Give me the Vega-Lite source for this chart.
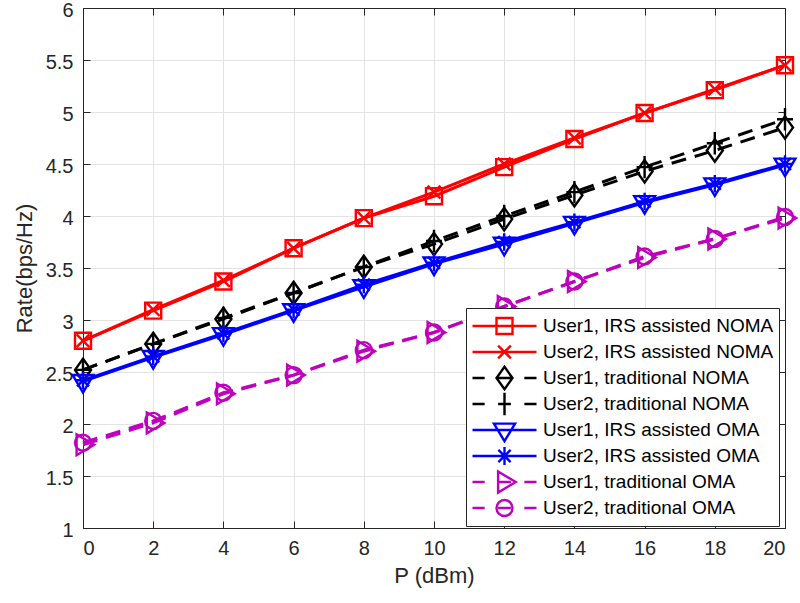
{
  "$schema": "https://vega.github.io/schema/vega-lite/v6.json",
  "width": 702,
  "height": 520,
  "autosize": {"type": "none"},
  "padding": {"left": 83, "top": 8, "right": 15, "bottom": 75},
  "background": "white",
  "config": {
    "font": "Liberation Sans",
    "view": {"stroke": null},
    "axis": {
      "domainColor": "#262626",
      "domainWidth": 1,
      "tickColor": "#262626",
      "tickWidth": 1,
      "tickSize": -7,
      "labelColor": "#262626",
      "labelFont": "Liberation Sans",
      "labelFontSize": 20,
      "titleFont": "Liberation Sans",
      "titleFontSize": 22,
      "titleFontWeight": "normal",
      "titleColor": "#262626",
      "gridColor": "#e3e3e3",
      "gridWidth": 1
    }
  },
  "data": {
    "values": [
      {"P": 0, "series": "User1, IRS assisted NOMA", "rate": 2.80},
      {"P": 2, "series": "User1, IRS assisted NOMA", "rate": 3.09},
      {"P": 4, "series": "User1, IRS assisted NOMA", "rate": 3.37},
      {"P": 6, "series": "User1, IRS assisted NOMA", "rate": 3.69},
      {"P": 8, "series": "User1, IRS assisted NOMA", "rate": 3.98},
      {"P": 10, "series": "User1, IRS assisted NOMA", "rate": 4.19},
      {"P": 12, "series": "User1, IRS assisted NOMA", "rate": 4.47},
      {"P": 14, "series": "User1, IRS assisted NOMA", "rate": 4.74},
      {"P": 16, "series": "User1, IRS assisted NOMA", "rate": 4.99},
      {"P": 18, "series": "User1, IRS assisted NOMA", "rate": 5.21},
      {"P": 20, "series": "User1, IRS assisted NOMA", "rate": 5.45},
      {"P": 0, "series": "User2, IRS assisted NOMA", "rate": 2.80},
      {"P": 2, "series": "User2, IRS assisted NOMA", "rate": 3.10},
      {"P": 4, "series": "User2, IRS assisted NOMA", "rate": 3.38},
      {"P": 6, "series": "User2, IRS assisted NOMA", "rate": 3.69},
      {"P": 8, "series": "User2, IRS assisted NOMA", "rate": 3.98},
      {"P": 10, "series": "User2, IRS assisted NOMA", "rate": 4.23},
      {"P": 12, "series": "User2, IRS assisted NOMA", "rate": 4.50},
      {"P": 14, "series": "User2, IRS assisted NOMA", "rate": 4.75},
      {"P": 16, "series": "User2, IRS assisted NOMA", "rate": 4.99},
      {"P": 18, "series": "User2, IRS assisted NOMA", "rate": 5.22},
      {"P": 20, "series": "User2, IRS assisted NOMA", "rate": 5.45},
      {"P": 0, "series": "User1, traditional NOMA", "rate": 2.52},
      {"P": 2, "series": "User1, traditional NOMA", "rate": 2.77},
      {"P": 4, "series": "User1, traditional NOMA", "rate": 3.01},
      {"P": 6, "series": "User1, traditional NOMA", "rate": 3.26},
      {"P": 8, "series": "User1, traditional NOMA", "rate": 3.51},
      {"P": 10, "series": "User1, traditional NOMA", "rate": 3.73},
      {"P": 12, "series": "User1, traditional NOMA", "rate": 3.97},
      {"P": 14, "series": "User1, traditional NOMA", "rate": 4.20},
      {"P": 16, "series": "User1, traditional NOMA", "rate": 4.43},
      {"P": 18, "series": "User1, traditional NOMA", "rate": 4.63},
      {"P": 20, "series": "User1, traditional NOMA", "rate": 4.85},
      {"P": 0, "series": "User2, traditional NOMA", "rate": 2.52},
      {"P": 2, "series": "User2, traditional NOMA", "rate": 2.77},
      {"P": 4, "series": "User2, traditional NOMA", "rate": 3.02},
      {"P": 6, "series": "User2, traditional NOMA", "rate": 3.26},
      {"P": 8, "series": "User2, traditional NOMA", "rate": 3.51},
      {"P": 10, "series": "User2, traditional NOMA", "rate": 3.76},
      {"P": 12, "series": "User2, traditional NOMA", "rate": 4.00},
      {"P": 14, "series": "User2, traditional NOMA", "rate": 4.23},
      {"P": 16, "series": "User2, traditional NOMA", "rate": 4.47},
      {"P": 18, "series": "User2, traditional NOMA", "rate": 4.70},
      {"P": 20, "series": "User2, traditional NOMA", "rate": 4.93},
      {"P": 0, "series": "User1, IRS assisted OMA", "rate": 2.41},
      {"P": 2, "series": "User1, IRS assisted OMA", "rate": 2.64},
      {"P": 4, "series": "User1, IRS assisted OMA", "rate": 2.86},
      {"P": 6, "series": "User1, IRS assisted OMA", "rate": 3.09},
      {"P": 8, "series": "User1, IRS assisted OMA", "rate": 3.32},
      {"P": 10, "series": "User1, IRS assisted OMA", "rate": 3.54},
      {"P": 12, "series": "User1, IRS assisted OMA", "rate": 3.73},
      {"P": 14, "series": "User1, IRS assisted OMA", "rate": 3.93},
      {"P": 16, "series": "User1, IRS assisted OMA", "rate": 4.13},
      {"P": 18, "series": "User1, IRS assisted OMA", "rate": 4.30},
      {"P": 20, "series": "User1, IRS assisted OMA", "rate": 4.49},
      {"P": 0, "series": "User2, IRS assisted OMA", "rate": 2.42},
      {"P": 2, "series": "User2, IRS assisted OMA", "rate": 2.65},
      {"P": 4, "series": "User2, IRS assisted OMA", "rate": 2.87},
      {"P": 6, "series": "User2, IRS assisted OMA", "rate": 3.10},
      {"P": 8, "series": "User2, IRS assisted OMA", "rate": 3.34},
      {"P": 10, "series": "User2, IRS assisted OMA", "rate": 3.55},
      {"P": 12, "series": "User2, IRS assisted OMA", "rate": 3.75},
      {"P": 14, "series": "User2, IRS assisted OMA", "rate": 3.94},
      {"P": 16, "series": "User2, IRS assisted OMA", "rate": 4.14},
      {"P": 18, "series": "User2, IRS assisted OMA", "rate": 4.31},
      {"P": 20, "series": "User2, IRS assisted OMA", "rate": 4.50},
      {"P": 0, "series": "User1, traditional OMA", "rate": 1.80},
      {"P": 2, "series": "User1, traditional OMA", "rate": 2.01},
      {"P": 4, "series": "User1, traditional OMA", "rate": 2.29},
      {"P": 6, "series": "User1, traditional OMA", "rate": 2.47},
      {"P": 8, "series": "User1, traditional OMA", "rate": 2.70},
      {"P": 10, "series": "User1, traditional OMA", "rate": 2.88},
      {"P": 12, "series": "User1, traditional OMA", "rate": 3.13},
      {"P": 14, "series": "User1, traditional OMA", "rate": 3.37},
      {"P": 16, "series": "User1, traditional OMA", "rate": 3.60},
      {"P": 18, "series": "User1, traditional OMA", "rate": 3.78},
      {"P": 20, "series": "User1, traditional OMA", "rate": 3.98},
      {"P": 0, "series": "User2, traditional OMA", "rate": 1.82},
      {"P": 2, "series": "User2, traditional OMA", "rate": 2.03},
      {"P": 4, "series": "User2, traditional OMA", "rate": 2.30},
      {"P": 6, "series": "User2, traditional OMA", "rate": 2.47},
      {"P": 8, "series": "User2, traditional OMA", "rate": 2.71},
      {"P": 10, "series": "User2, traditional OMA", "rate": 2.88},
      {"P": 12, "series": "User2, traditional OMA", "rate": 3.13},
      {"P": 14, "series": "User2, traditional OMA", "rate": 3.37},
      {"P": 16, "series": "User2, traditional OMA", "rate": 3.61},
      {"P": 18, "series": "User2, traditional OMA", "rate": 3.78},
      {"P": 20, "series": "User2, traditional OMA", "rate": 3.99}
    ]
  },
  "layer": [
    {
      "encoding": {
        "x": {
          "field": "P",
          "type": "quantitative",
          "scale": {"domain": [0, 20], "nice": false, "zero": false},
          "axis": {
            "orient": "bottom",
            "values": [0, 2, 4, 6, 8, 10, 12, 14, 16, 18, 20],
            "grid": true,
            "labelPadding": 17,
            "title": "P (dBm)",
            "titlePadding": 7
          }
        },
        "y": {
          "field": "rate",
          "type": "quantitative",
          "scale": {"domain": [1, 6], "nice": false, "zero": false},
          "axis": {
            "orient": "left",
            "values": [1, 1.5, 2, 2.5, 3, 3.5, 4, 4.5, 5, 5.5, 6],
            "format": "~g",
            "grid": true,
            "labelPadding": 17,
            "labelOffset": 2,
            "title": "Rate(bps/Hz)",
            "titlePadding": 9
          }
        },
        "color": {
          "field": "series",
          "type": "nominal",
          "scale": {
            "domain": [
              "User1, IRS assisted NOMA",
              "User2, IRS assisted NOMA",
              "User1, traditional NOMA",
              "User2, traditional NOMA",
              "User1, IRS assisted OMA",
              "User2, IRS assisted OMA",
              "User1, traditional OMA",
              "User2, traditional OMA"
            ],
            "range": ["#ff0000", "#ff0000", "#000000", "#000000", "#0000ff", "#0000ff", "#bf00bf", "#bf00bf"]
          },
          "legend": {
            "title": null,
            "orient": "none",
            "legendX": 383,
            "legendY": 300,
            "direction": "vertical",
            "symbolSize": 4096,
            "symbolStrokeWidth": 2.4,
            "labelFont": "Liberation Sans",
            "labelFontSize": 19,
            "labelColor": "#000000",
            "labelOffset": 5,
            "labelLimit": 400,
            "padding": 5,
            "clipHeight": 26,
            "rowPadding": 0,
            "strokeColor": "#262626",
            "fillColor": "white",
            "encode": {
              "symbols": {
                "update": {
                  "shape": {
                    "signal": "['M-1,0H1M-0.25,-0.25H0.25V0.25H-0.25Z', 'M-1,0H1M-0.2,-0.2L0.2,0.2M-0.2,0.2L0.2,-0.2', 'M-1,0H-0.62M-0.2,0H0.2M0.62,0H1M0,-0.35L0.25,0L0,0.35L-0.25,0Z', 'M-1,0H-0.62M-0.2,0H0.2M0.62,0H1M0,-0.35V0.35', 'M-1,0H1M-0.33,-0.2H0.33L0,0.35Z', 'M-1,0H1M0,-0.28V0.28M-0.19,-0.19L0.19,0.19M-0.19,0.19L0.19,-0.19', 'M-1,0H-0.62M-0.2,0H0.2M0.62,0H1M-0.2,-0.33L0.35,0L-0.2,0.33Z', 'M-1,0H-0.62M-0.2,0H0.2M0.62,0H1M0.25,0A0.25,0.25 0 1,1 -0.25,0A0.25,0.25 0 1,1 0.25,0Z'][indexof(['User1, IRS assisted NOMA', 'User2, IRS assisted NOMA', 'User1, traditional NOMA', 'User2, traditional NOMA', 'User1, IRS assisted OMA', 'User2, IRS assisted OMA', 'User1, traditional OMA', 'User2, traditional OMA'], datum.value)]"
                  },
                  "fill": {"value": "transparent"},
                  "strokeDash": {"value": []},
                  "opacity": {"value": 1}
                }
              }
            }
          }
        }
      },
      "layer": [
        {
          "transform": [{"filter": "indexof(datum.series, 'traditional') < 0"}],
          "mark": {"type": "line", "strokeWidth": 3}
        },
        {
          "transform": [{"filter": "indexof(datum.series, 'traditional') >= 0"}],
          "mark": {"type": "line", "strokeWidth": 3, "strokeDash": [15, 9]}
        },
        {
          "mark": {"type": "point", "filled": false, "strokeWidth": 2.4, "size": 256, "opacity": 1},
          "encoding": {
            "shape": {
              "field": "series",
              "type": "nominal",
              "scale": {
                "domain": [
                  "User2, traditional OMA",
                  "User1, traditional OMA",
                  "User2, IRS assisted OMA",
                  "User1, IRS assisted OMA",
                  "User2, traditional NOMA",
                  "User1, traditional NOMA",
                  "User2, IRS assisted NOMA",
                  "User1, IRS assisted NOMA"
                ],
                "range": [
                  "M1,0A1,1 0 1,1 -1,0A1,1 0 1,1 1,0Z",
                  "M-0.8,-1.3L1.4,0L-0.8,1.3Z",
                  "M-1,0H1M0,-1.1V1.1M-0.75,-0.75L0.75,0.75M-0.75,0.75L0.75,-0.75",
                  "M-1.3,-0.8H1.3L0,1.4Z",
                  "M-1,0H1M0,-1.4V1.4",
                  "M0,-1.4L1,0L0,1.4L-1,0Z",
                  "M-0.8,-0.8L0.8,0.8M-0.8,0.8L0.8,-0.8",
                  "M-1,-1H1V1H-1Z"
                ]
              },
              "legend": null
            }
          }
        }
      ]
    },
    {
      "mark": {"type": "point", "opacity": 0},
      "encoding": {
        "x": {
          "field": "P",
          "type": "quantitative",
          "scale": {"domain": [0, 20], "nice": false, "zero": false},
          "axis": {
            "orient": "top",
            "values": [0, 2, 4, 6, 8, 10, 12, 14, 16, 18, 20],
            "labels": false,
            "grid": false,
            "title": null
          }
        },
        "y": {
          "field": "rate",
          "type": "quantitative",
          "scale": {"domain": [1, 6], "nice": false, "zero": false},
          "axis": {
            "orient": "right",
            "values": [1, 1.5, 2, 2.5, 3, 3.5, 4, 4.5, 5, 5.5, 6],
            "labels": false,
            "grid": false,
            "title": null
          }
        }
      }
    }
  ],
  "resolve": {
    "scale": {"x": "independent", "y": "independent"},
    "axis": {"x": "independent", "y": "independent"}
  }
}
